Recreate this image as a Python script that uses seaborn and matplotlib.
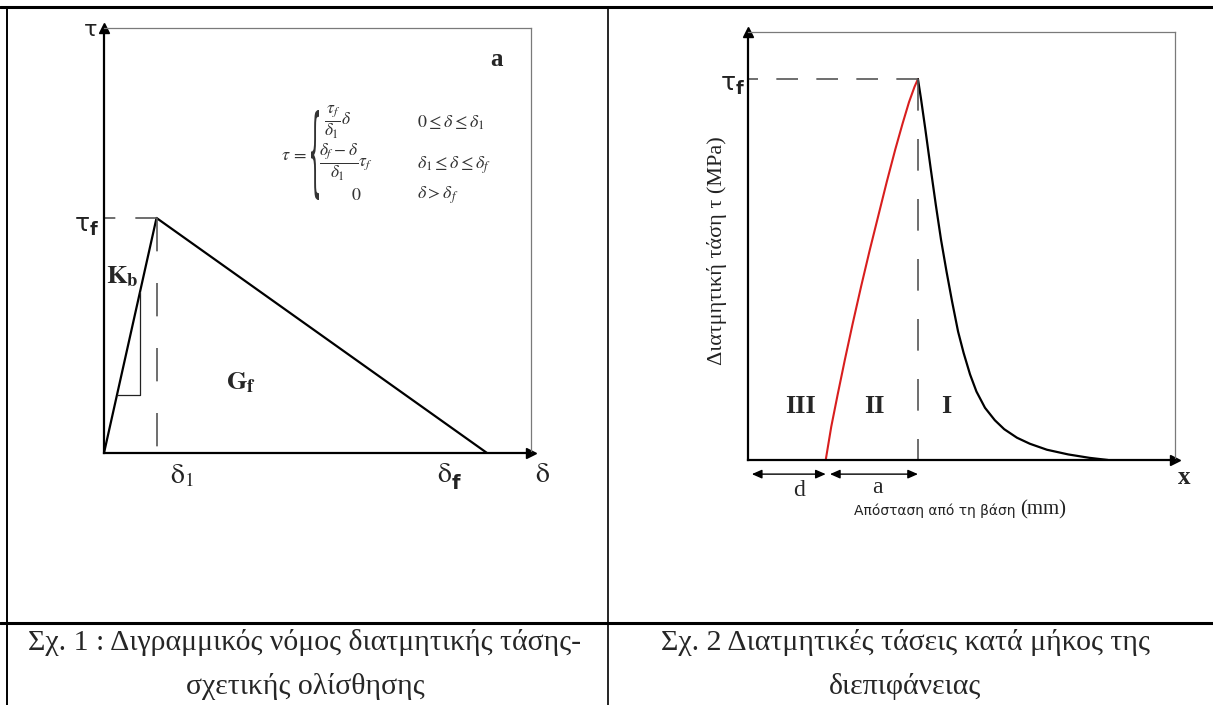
import numpy as np
import pandas as pd
import matplotlib
matplotlib.use("Agg")
import matplotlib.pyplot as plt
import seaborn as sns
from matplotlib.textpath import TextPath
from matplotlib.patches import PathPatch
from matplotlib.transforms import Affine2D
from matplotlib.font_manager import FontProperties

# --- data (axes run 0..1 on both panels) ---
# Fig. 1: bilinear bond-slip law
slip = [0.0, 0.123, 0.897]          # 0, delta_1, delta_f
stress = [0.0, 0.553, 0.0]          # 0, tau_f, 0
delta_1 = slip[1]
delta_f = slip[2]
tau_f_1 = stress[1]

# Fig. 2: shear stress along the interface
red_x = [0.182, 0.195, 0.210, 0.227, 0.245, 0.265, 0.285, 0.305, 0.325, 0.345,
         0.362, 0.377, 0.390, 0.398]
red_y = [0.000, 0.078, 0.153, 0.235, 0.318, 0.406, 0.490, 0.570, 0.650, 0.726,
         0.786, 0.836, 0.872, 0.890]
black_x = [0.398, 0.405, 0.415, 0.428, 0.440, 0.452, 0.465, 0.478, 0.492, 0.505,
           0.520, 0.535, 0.555, 0.578, 0.600, 0.630, 0.660, 0.700, 0.750, 0.800, 0.843]
black_y = [0.890, 0.845, 0.775, 0.680, 0.595, 0.515, 0.440, 0.370, 0.300, 0.250,
           0.200, 0.160, 0.122, 0.093, 0.072, 0.052, 0.038, 0.024, 0.013, 0.005, 0.000]
d_end = red_x[0]
peak_x = red_x[-1]
tau_f_2 = red_y[-1]

caption_1 = ["Σχ. 1 : Διγραμμικός νόμος διατμητικής τάσης-", "σχετικής ολίσθησης"]
caption_2 = ["Σχ. 2 Διατμητικές τάσεις κατά μήκος της", "διεπιφάνειας"]

sns.set_theme(style="white")
plt.rcParams['font.family'] = ['Liberation Serif', 'DejaVu Serif']

W, H = 1213, 705
fig = plt.figure(figsize=(W / 100, H / 100), dpi=100)


def fx(px):
    return px / W


def fy(py):
    return 1 - py / H


def style_axes(ax):
    ax.set_xlim(0, 1)
    ax.set_ylim(0, 1)
    ax.set_xticks([])
    ax.set_yticks([])
    ax.set_xlabel("")
    ax.set_ylabel("")
    for s in ["left", "bottom"]:
        ax.spines[s].set_color("black")
        ax.spines[s].set_linewidth(1.6)
    for s in ["top", "right"]:
        ax.spines[s].set_color("#7a7a7a")
        ax.spines[s].set_linewidth(0.9)
    ax.patch.set_alpha(0)
    # arrow heads on the axes
    ax.plot(0, 1, marker="^", ms=7, color="black", transform=ax.transAxes, clip_on=False)
    ax.plot(1, 0, marker=">", ms=7, color="black", transform=ax.transAxes, clip_on=False)


# ---------------- left panel ----------------
ax1 = fig.add_axes([fx(104), fy(453), fx(427), 425 / H])
sns.lineplot(x=slip, y=stress, ax=ax1, color="black", lw=1.6, sort=False)
style_axes(ax1)

# dashed guides
ax1.plot([delta_1, 0], [tau_f_1, tau_f_1], color="#555555", lw=1.2,
         linestyle=(0, (13, 12)))
ax1.plot([delta_1, delta_1], [tau_f_1, 0], color="#555555", lw=1.2,
         linestyle=(0, (20, 19)))

# slope triangle
y_lo = 0.136
x_lo = y_lo * delta_1 / tau_f_1
x_v = 0.0843
ax1.plot([x_lo, x_v, x_v], [y_lo, y_lo, x_v * tau_f_1 / delta_1], color="#222222", lw=0.9)

sans = dict(family=["DejaVu Sans"], math_fontfamily="dejavusans", color="#222222")
serif = dict(math_fontfamily="stix", color="#222222")
ax1.text(-0.033, 0.995, r"$\mathrm{\tau}$", fontsize=16, ha="center", va="center", **sans)
ax1.text(-0.040, 0.535, r"$\mathrm{\tau}_{\mathbf{f}}$", fontsize=18, ha="center", va="center", **sans)
ax1.text(0.183, -0.055, r"$\mathrm{\delta}_1$", fontsize=20, ha="center", va="center", **serif)
ax1.text(0.815, -0.052, r"$\mathrm{\delta}$", fontsize=20, ha="right", va="center", **serif)
ax1.text(0.815, -0.072, "f", fontsize=14, fontweight="bold", ha="left", va="center",
         family=["DejaVu Sans"], color="#222222")
ax1.text(1.026, -0.052, r"$\mathrm{\delta}$", fontsize=20, ha="center", va="center", **serif)

ax1.text(0.042, 0.414, r"$\mathbf{K_b}$", fontsize=19, ha="center", va="center",
         math_fontfamily="stix")
ax1.text(0.321, 0.165, r"$\mathbf{G_f}$", fontsize=19, ha="center", va="center",
         math_fontfamily="stix")
ax1.text(0.920, 0.925, "a", fontsize=18, fontweight="bold", ha="center", va="center")

# piecewise law
mt = dict(math_fontfamily="stix", color="#333333", va="center")
ax1.text(0.415, 0.701, r"$\tau\,=$", fontsize=13, ha="left", **mt)
ax1.text(0.515, 0.778, r"$\dfrac{\tau_f}{\delta_1}\delta$", fontsize=12.5, ha="left", **mt)
ax1.text(0.503, 0.683, r"$\dfrac{\delta_f-\delta}{\delta_1}\tau_f$", fontsize=12.5, ha="left", **mt)
ax1.text(0.590, 0.606, r"$0$", fontsize=13, ha="center", **mt)
ax1.text(0.733, 0.776, r"$0\leq\delta\leq\delta_1$", fontsize=13, ha="left", **mt)
ax1.text(0.733, 0.678, r"$\delta_1\leq\delta\leq\delta_f$", fontsize=13, ha="left", **mt)
ax1.text(0.733, 0.606, r"$\delta>\delta_f$", fontsize=13, ha="left", **mt)

# tall thin brace of the cases
brace = TextPath((0, 0), "{", size=100, prop=FontProperties(family="DejaVu Sans"))
ext = brace.get_extents()
bx0, bx1, by_top, by_bot = 311, 319, 110, 200
tr = (Affine2D().translate(-ext.x0, -ext.y0)
      .scale((bx1 - bx0) / ext.width, (by_bot - by_top) / ext.height)
      .translate(bx0, H - by_bot))
fig.add_artist(PathPatch(brace, transform=tr, facecolor="#333333", edgecolor="none"))

# ---------------- right panel ----------------
ax2 = fig.add_axes([fx(748), fy(460), fx(427), 428 / H])
sns.lineplot(x=red_x, y=red_y, ax=ax2, color="#d81e1e", lw=1.5, sort=False)
sns.lineplot(x=black_x, y=black_y, ax=ax2, color="black", lw=1.6, sort=False)
style_axes(ax2)

ax2.plot([peak_x, 0], [tau_f_2, tau_f_2], color="#555555", lw=1.2,
         linestyle=(0, (13, 11)))
ax2.plot([peak_x, peak_x], [tau_f_2, 0], color="#555555", lw=1.2,
         linestyle=(0, (19, 17)))

ax2.text(-0.037, 0.876, r"$\mathrm{\tau}_{\mathbf{f}}$", fontsize=18, ha="center", va="center", **sans)
for lab, xx in zip(["III", "II", "I"], [0.122, 0.295, 0.464]):
    ax2.text(xx, 0.124, lab, fontsize=19, fontweight="bold", ha="center", va="center")

arrow = dict(arrowstyle="<|-|>,head_length=0.5,head_width=0.22", color="black", lw=1.0,
             shrinkA=0, shrinkB=0)
ax2.annotate("", xy=(0.009, -0.033), xytext=(d_end, -0.033), arrowprops=arrow,
             annotation_clip=False)
ax2.annotate("", xy=(d_end + 0.01, -0.033), xytext=(peak_x, -0.033), arrowprops=arrow,
             annotation_clip=False)
ax2.text(0.119, -0.072, "d", fontsize=17, ha="center", va="center")
ax2.text(0.304, -0.064, "a", fontsize=17, ha="center", va="center")
ax2.text(0.637, -0.118, "Απόσταση από τη βάση ", fontsize=10, ha="right", va="center",
         family=["DejaVu Sans"], color="#222222")
ax2.text(0.637, -0.116, "(mm)", fontsize=15, ha="left", va="center", color="#222222")
ax2.text(1.022, -0.042, "x", fontsize=18, fontweight="bold", ha="center", va="center")
ax2.text(-0.072, 0.49, "Διατμητική τάση τ (MPa)", fontsize=16, rotation=90,
         ha="center", va="center", color="#222222")

# ---------------- table frame and captions ----------------
line_kw = dict(color="black", transform=fig.transFigure)
fig.add_artist(plt.Line2D([0, 1], [fy(7), fy(7)], lw=2.2, **line_kw))
fig.add_artist(plt.Line2D([0, 1], [fy(623), fy(623)], lw=2.2, **line_kw))
fig.add_artist(plt.Line2D([fx(7), fx(7)], [0, fy(7)], lw=1.4, **line_kw))
fig.add_artist(plt.Line2D([fx(608), fx(608)], [0, fy(7)], lw=1.2, **line_kw))

for cx, cap in [(fx(305), caption_1), (fx(905), caption_2)]:
    fig.text(cx, fy(642), cap[0], fontsize=21.5, ha="center", va="center")
    fig.text(cx, fy(686), cap[1], fontsize=21.5, ha="center", va="center")

fig.savefig("out.png", dpi=100)
